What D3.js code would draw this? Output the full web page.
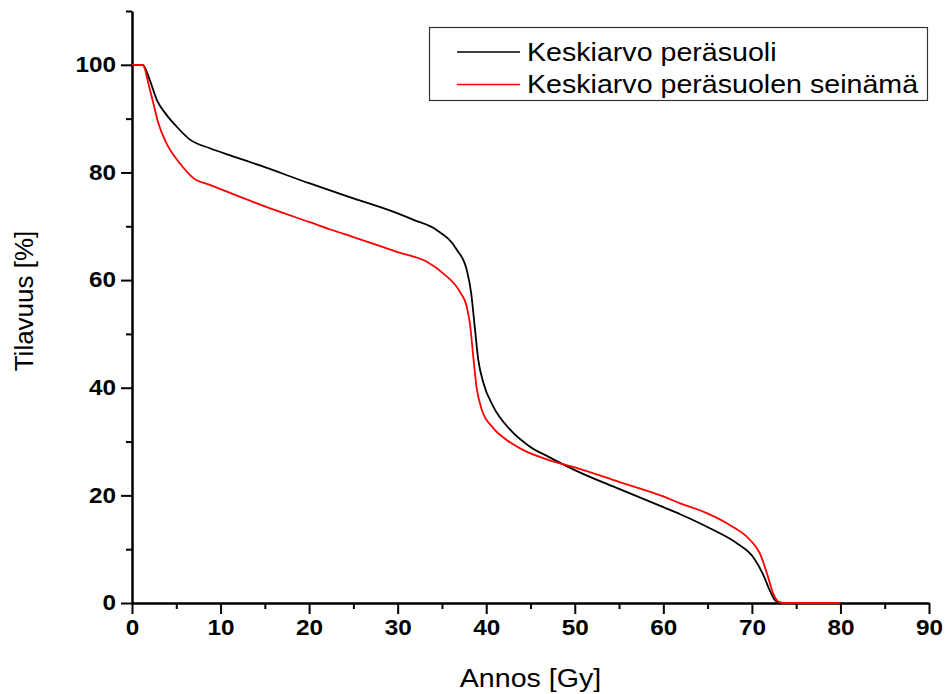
<!DOCTYPE html>
<html>
<head>
<meta charset="utf-8">
<script src="https://cdn.jsdelivr.net/npm/d3@7/dist/d3.min.js"></script>
<style>
  html, body { margin: 0; padding: 0; background: #fff; }
  svg { display: block; font-family: "Liberation Sans", Arial, sans-serif; }
  .tick text { font-weight: bold; font-size: 22.5px; fill: #000; }
  .ylab text, .xlab text { transform-box: fill-box; transform: scaleX(1.08); }
  .ylab text { transform-origin: 100% 50%; }
  .xlab text { transform-origin: 50% 50%; }
  .wide { transform-box: fill-box; transform: scaleX(1.1); }
  .wide.start { transform-origin: 0% 50%; }
  .wide.mid { transform-origin: 50% 50%; }
</style>
</head>
<body>
<svg id="chart" width="945" height="694"></svg>
<script>
// Dose–volume curves: dose [Gy] and relative volume [%]
const rectumDose = [0, 1.2, 1.3, 2.0, 2.8, 3.9, 5.05, 6.55, 8.8, 11.4, 14.45, 20, 25, 30, 31.8, 34.4, 36.7, 37.8, 38.3, 38.7, 39.1, 39.7, 40.8, 42.7, 44.9, 47, 50, 55, 60, 61.9, 65.6, 68.3, 70.2, 71.3, 72.0, 72.6, 73.2, 75, 80];
const rectumVolume = [100, 100, 99.9, 97.2, 93.5, 90.7, 88.5, 86.1, 84.5, 83.0, 81.3, 78.0, 75.2, 72.4, 71.2, 69.3, 65.6, 61.9, 57.6, 51.4, 45.2, 40.8, 36.5, 32.2, 29.1, 27.2, 24.7, 21.2, 17.8, 16.5, 13.6, 11.1, 8.4, 5.2, 2.4, 0.55, 0, 0, 0];

const wallDose = [0, 1.2, 1.35, 1.84, 2.4, 2.97, 3.9, 5.4, 6.9, 8.8, 10, 12, 15, 20, 22.4, 25, 30, 33.3, 35.1, 37.0, 37.8, 38.2, 38.5, 38.9, 39.5, 40.8, 42.3, 44.2, 47, 50, 55, 60, 61.9, 64.9, 67.5, 69.8, 70.9, 71.7, 72.4, 73.0, 73.6, 75, 80];
const wallVolume = [100, 100, 99.7, 96.6, 92.9, 89.2, 85.4, 81.7, 79.0, 77.7, 76.9, 75.6, 73.7, 70.8, 69.4, 68.0, 65.2, 63.4, 61.3, 57.9, 55.1, 51.4, 46.4, 40.2, 35.9, 32.5, 30.3, 28.4, 26.6, 25.2, 22.5, 19.8, 18.5, 16.7, 14.5, 11.7, 9.2, 5.5, 1.8, 0.25, 0, 0, 0];

const xTicksMajor = [0, 10, 20, 30, 40, 50, 60, 70, 80, 90];
const xTicksMinor = [5, 15, 25, 35, 45, 55, 65, 75, 85];
const yTicksMajor = [0, 20, 40, 60, 80, 100];
const yTicksMinor = [10, 30, 50, 70, 90, 110];

const seriesNames = ["Keskiarvo peräsuoli", "Keskiarvo peräsuolen seinämä"];
const seriesColors = ["#000000", "#ff0000"];
const xTitle = "Annos [Gy]";
const yTitle = "Tilavuus [%]";

const svg = d3.select("#chart");
const plotLeft = 132, plotRight = 929, plotTop = 11, plotBottom = 603;

const x = d3.scaleLinear().domain([0, 90]).range([plotLeft, plotRight]);
const y = d3.scaleLinear().domain([0, 110]).range([plotBottom, plotTop]);

// minor ticks first, then major ticks with labels
svg.append("g").attr("transform", `translate(0,${plotBottom})`)
  .call(d3.axisBottom(x).tickValues(xTicksMinor).tickSize(6).tickFormat(""))
  .call(g => g.select(".domain").remove())
  .call(g => g.selectAll(".tick line").attr("stroke", "#000").attr("stroke-width", 2));

const xAxis = svg.append("g").attr("class", "xlab").attr("transform", `translate(0,${plotBottom})`)
  .call(d3.axisBottom(x).tickValues(xTicksMajor).tickSize(11).tickSizeOuter(0).tickPadding(5).tickFormat(d3.format("d")));
xAxis.select(".domain").attr("stroke", "#000").attr("stroke-width", 2.5);
xAxis.selectAll(".tick line").attr("stroke", "#000").attr("stroke-width", 2);

svg.append("g").attr("transform", `translate(${plotLeft},0)`)
  .call(d3.axisLeft(y).tickValues(yTicksMinor).tickSize(6).tickFormat(""))
  .call(g => g.select(".domain").remove())
  .call(g => g.selectAll(".tick line").attr("stroke", "#000").attr("stroke-width", 2));

const yAxis = svg.append("g").attr("class", "ylab").attr("transform", `translate(${plotLeft},0)`)
  .call(d3.axisLeft(y).tickValues(yTicksMajor).tickSize(11).tickSizeOuter(0).tickPadding(5).tickFormat(d3.format("d")));
yAxis.select(".domain").attr("stroke", "#000").attr("stroke-width", 2.5);
yAxis.selectAll(".tick line").attr("stroke", "#000").attr("stroke-width", 2);
yAxis.selectAll(".tick text").attr("dy", "0.3em");

// curves
const line = d3.line().x(d => x(d[0])).y(d => y(d[1])).curve(d3.curveMonotoneX);
const series = [
  d3.zip(rectumDose, rectumVolume),
  d3.zip(wallDose, wallVolume)
];
svg.append("path").datum(series[0]).attr("d", line)
  .attr("fill", "none").attr("stroke", seriesColors[0]).attr("stroke-width", 1.8);
svg.append("path").datum(series[1]).attr("d", line)
  .attr("fill", "none").attr("stroke", seriesColors[1]).attr("stroke-width", 1.8);

// axis titles
svg.append("text").attr("class", "wide mid")
  .attr("x", (plotLeft + plotRight) / 2).attr("y", 687)
  .attr("text-anchor", "middle").attr("font-size", 26).text(xTitle);
svg.append("text")
  .attr("transform", "translate(33,301) rotate(-90)")
  .attr("text-anchor", "middle").attr("font-size", 26).text(yTitle);

// legend
const lg = svg.append("g");
lg.append("rect").attr("x", 429.5).attr("y", 27.5).attr("width", 498).attr("height", 73)
  .attr("fill", "#fff").attr("stroke", "#333").attr("stroke-width", 1.2);
seriesNames.forEach((name, i) => {
  const yy = 52 + i * 32.5;
  lg.append("line").attr("x1", 457).attr("x2", 520).attr("y1", yy).attr("y2", yy)
    .attr("stroke", seriesColors[i]).attr("stroke-width", 1.6);
  lg.append("text").attr("class", "wide start").attr("x", 527).attr("y", yy + 9)
    .attr("font-size", 26).text(name);
});
</script>
</body>
</html>
